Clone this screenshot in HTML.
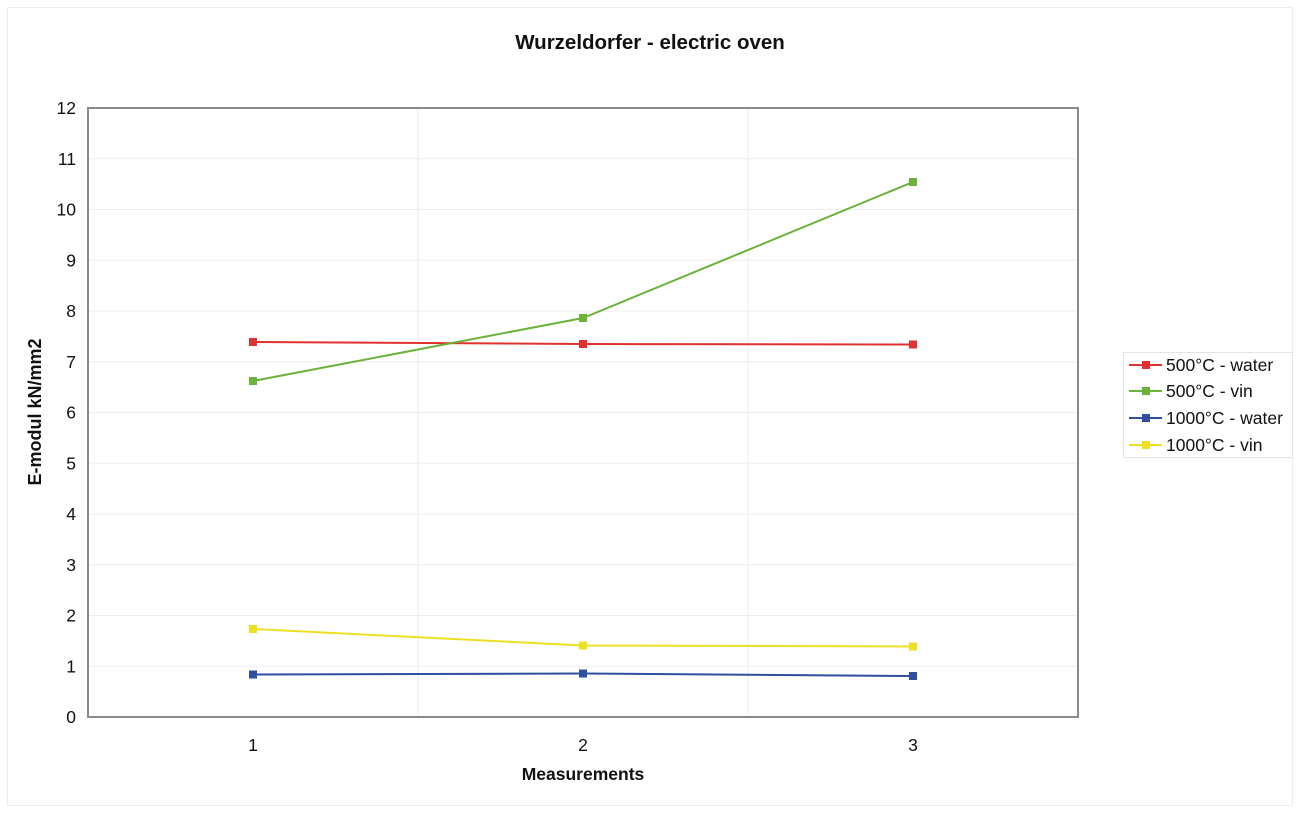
<!DOCTYPE html>
<html><head><meta charset="utf-8"><style>
html,body{margin:0;padding:0;background:#fff;}
svg{display:block;font-family:"Liberation Sans",Arial,sans-serif;}
</style></head><body>
<svg width="1300" height="814" viewBox="0 0 1300 814">
<rect x="0" y="0" width="1300" height="814" fill="#fff"/>
<rect x="7.5" y="7.5" width="1285" height="798" fill="none" stroke="#ececec" stroke-width="1"/>
<text x="650" y="49" text-anchor="middle" font-size="20.5" font-weight="bold" fill="#111">Wurzeldorfer - electric oven</text>
<g stroke="#eeeeee" stroke-width="1">
<line x1="88" y1="158.75" x2="1078" y2="158.75"/>
<line x1="88" y1="209.5" x2="1078" y2="209.5"/>
<line x1="88" y1="260.25" x2="1078" y2="260.25"/>
<line x1="88" y1="311" x2="1078" y2="311"/>
<line x1="88" y1="361.75" x2="1078" y2="361.75"/>
<line x1="88" y1="412.5" x2="1078" y2="412.5"/>
<line x1="88" y1="463.25" x2="1078" y2="463.25"/>
<line x1="88" y1="514" x2="1078" y2="514"/>
<line x1="88" y1="564.75" x2="1078" y2="564.75"/>
<line x1="88" y1="615.5" x2="1078" y2="615.5"/>
<line x1="88" y1="666.25" x2="1078" y2="666.25"/>
<line x1="418" y1="108" x2="418" y2="717"/>
<line x1="748" y1="108" x2="748" y2="717"/>
</g>
<rect x="88" y="108" width="990" height="609" fill="none" stroke="#8a8a8a" stroke-width="2"/>
<g font-size="17.5" fill="#111" text-anchor="end">
<text x="76" y="114">12</text><text x="76" y="164.75">11</text><text x="76" y="215.5">10</text>
<text x="76" y="266.25">9</text><text x="76" y="317">8</text><text x="76" y="367.75">7</text>
<text x="76" y="418.5">6</text><text x="76" y="469.25">5</text><text x="76" y="520">4</text>
<text x="76" y="570.75">3</text><text x="76" y="621.5">2</text><text x="76" y="672.25">1</text>
<text x="76" y="723">0</text>
</g>
<g font-size="17.5" fill="#111" text-anchor="middle">
<text x="253" y="751">1</text><text x="583" y="751">2</text><text x="913" y="751">3</text>
</g>
<text x="583" y="780" text-anchor="middle" font-size="17.5" font-weight="bold" fill="#111">Measurements</text>
<text transform="translate(41,412) rotate(-90)" text-anchor="middle" font-size="18" font-weight="bold" fill="#111">E-modul kN/mm2</text>
<g stroke-width="2" fill="none">
<polyline points="253,342 583,344 913,344.5" stroke="#e03030"/>
<polyline points="253,381 583,318 913,182" stroke="#6ab23a"/>
<polyline points="253,674.5 583,673.5 913,676" stroke="#2e4fa0"/>
<polyline points="253,629 583,645.5 913,646.5" stroke="#ece020"/>
</g>
<g>
<g fill="#e03030"><rect x="249" y="338" width="8" height="8"/><rect x="579" y="340" width="8" height="8"/><rect x="909" y="340.5" width="8" height="8"/></g>
<g fill="#6ab23a"><rect x="249" y="377" width="8" height="8"/><rect x="579" y="314" width="8" height="8"/><rect x="909" y="178" width="8" height="8"/></g>
<g fill="#2e4fa0"><rect x="249" y="670.5" width="8" height="8"/><rect x="579" y="669.5" width="8" height="8"/><rect x="909" y="672" width="8" height="8"/></g>
<g fill="#ece020"><rect x="249" y="625" width="8" height="8"/><rect x="579" y="641.5" width="8" height="8"/><rect x="909" y="642.5" width="8" height="8"/></g>
</g>
<rect x="1123.5" y="352.5" width="169" height="105" fill="#fff" stroke="#e4e4e4"/>
<g stroke-width="2">
<line x1="1129" y1="365" x2="1162" y2="365" stroke="#e03030"/>
<line x1="1129" y1="391" x2="1162" y2="391" stroke="#6ab23a"/>
<line x1="1129" y1="418" x2="1162" y2="418" stroke="#2e4fa0"/>
<line x1="1129" y1="445" x2="1162" y2="445" stroke="#ece020"/>
</g>
<rect x="1142" y="361" width="8" height="8" fill="#e03030"/>
<rect x="1142" y="387" width="8" height="8" fill="#6ab23a"/>
<rect x="1142" y="414" width="8" height="8" fill="#2e4fa0"/>
<rect x="1142" y="441" width="8" height="8" fill="#ece020"/>
<g font-size="17.5" fill="#111">
<text x="1166" y="371">500°C - water</text>
<text x="1166" y="397">500°C - vin</text>
<text x="1166" y="424">1000°C - water</text>
<text x="1166" y="451">1000°C - vin</text>
</g>
</svg>
</body></html>
